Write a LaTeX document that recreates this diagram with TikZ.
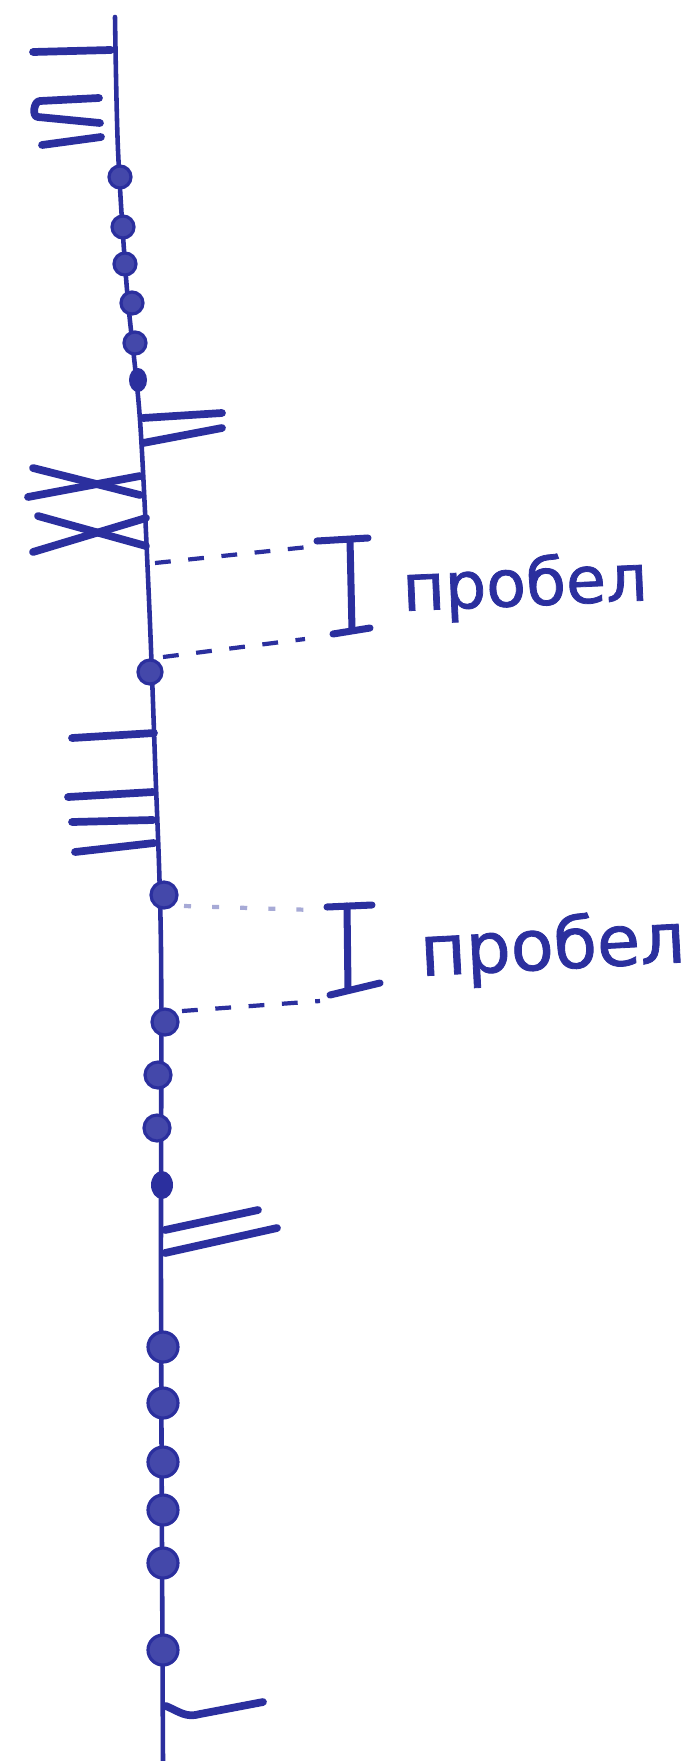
\documentclass[tikz,border=0pt]{standalone}
\usepackage{fontspec}
\setmainfont[FakeBold=1.2]{DejaVu Sans}
\usepackage{xcolor}
\definecolor{inkBlue}{HTML}{2B2F9E}
\definecolor{inkFaint}{HTML}{A7AAD6}
\usepackage{tikz}
\usetikzlibrary{calc}

\begin{document}
\begin{tikzpicture}[x=0.02cm, y=-0.02cm,
    stem/.style={inkBlue, line width=2.6pt, line cap=round},
    notch/.style={inkBlue, line width=4.4pt, line cap=round, line join=round},
    bead/.style={fill=inkBlue!88, draw=inkBlue, line width=1.8pt},
    gap/.style={inkBlue, line width=2.4pt, dash pattern=on 9pt off 10pt},
    bracket/.style={inkBlue, line width=4pt, line cap=round},
    word/.style={inkBlue, anchor=base west, inner sep=0pt}]
    \useasboundingbox (0,0) rectangle (691,1761);

    % ══════════════════════════════════════════════
    % ══ СТВОЛ ══
    % ══════════════════════════════════════════════
    \draw[stem] plot[smooth] coordinates {(115,17) (118,150) (127,290) (140,420) (149,600) (155,760) (161,950) (161,1300) (163,1761)};

    % ══════════════════════════════════════════════
    % ══ ВЕРХНЯЯ ЧАСТЬ ══
    % ══════════════════════════════════════════════

    % Черты слева
    \draw[notch] (33,52) -- (111,50);
    \draw[notch] (99,98) -- (40,101) to[out=180, in=180] (38,117) -- (100,123);
    \draw[notch] (42,145) -- (101,137);

    % Точки
    \foreach \px/\py in {120/177, 123/227, 125/264, 132/303, 135/343}
        \filldraw[bead] (\px,\py) circle (11);
    \fill[inkBlue] (138,380) ellipse (9 and 12);

    % Черты справа
    \draw[notch] (143,418) -- (222,413);
    \draw[notch] (143,443) -- (222,428);

    % Скрещенные черты слева
    \draw[notch] (33,468) -- (140,495);
    \draw[notch] (28,497) -- (140,476);
    \draw[notch] (38,516) -- (146,546);
    \draw[notch] (33,552) -- (146,518);

    % ══════════════════════════════════════════════
    % ══ ПЕРВЫЙ ПРОБЕЛ ══
    % ══════════════════════════════════════════════
    \coordinate (gapOneTop) at (155,563);
    \coordinate (barOneTop) at (308,547);
    \coordinate (gapOneLow) at (163,657);
    \coordinate (barOneLow) at (305,639);
    \draw[gap] (gapOneTop) -- (barOneTop);
    \draw[gap] (gapOneLow) -- (barOneLow);

    % Скобка I
    \draw[bracket] (317,541) -- (368,538);
    \draw[bracket] (350,540) -- (352,630);
    \draw[bracket] (333,634) -- (370,628);
    \node[word, font=\fontsize{37pt}{38pt}\selectfont, rotate=2.5] (wordOne) at (403,611) {пробел};

    \filldraw[bead] (150,672) circle (12);

    % ══════════════════════════════════════════════
    % ══ СРЕДНЯЯ ЧАСТЬ ══
    % ══════════════════════════════════════════════
    \draw[notch] (72,738) -- (154,733);
    \draw[notch] (68,797) -- (153,792);
    \draw[notch] (72,822) -- (153,820);
    \draw[notch] (75,852) -- (154,843);

    % ══════════════════════════════════════════════
    % ══ ВТОРОЙ ПРОБЕЛ ══
    % ══════════════════════════════════════════════
    \filldraw[bead] (164,895) circle (13);
    \filldraw[bead] (165,1022) circle (13);

    \coordinate (gapTwoTop) at (184,906);
    \coordinate (barTwoTop) at (314,910);
    \coordinate (gapTwoLow) at (182,1011);
    \coordinate (barTwoLow) at (320,1001);
    \draw[inkFaint, line width=2.4pt, dash pattern=on 4pt off 12pt] (gapTwoTop) -- (barTwoTop);
    \draw[gap] (gapTwoLow) -- (barTwoLow);

    % Скобка I
    \draw[bracket] (327,907) -- (372,905);
    \draw[bracket] (347,906) -- (348,990);
    \draw[bracket] (330,995) -- (380,983);
    \node[word, font=\fontsize{40pt}{42pt}\selectfont, rotate=3] (wordTwo) at (421,976) {пробел};

    % ══════════════════════════════════════════════
    % ══ НИЖНЯЯ ЧАСТЬ ══
    % ══════════════════════════════════════════════
    \filldraw[bead] (158,1075) circle (13);
    \filldraw[bead] (157,1128) circle (13);
    \fill[inkBlue] (162,1185) ellipse (11 and 14);

    \draw[notch] (165,1230) -- (258,1210);
    \draw[notch] (165,1253) -- (277,1228);

    \foreach \py in {1347, 1403, 1462, 1510, 1563, 1650}
        \filldraw[bead] (163,\py) circle (15);

    % Последняя черта
    \draw[notch] (166,1706) .. controls (180,1712) and (186,1718) .. (200,1714) -- (263,1702);

\end{tikzpicture}
\end{document}
